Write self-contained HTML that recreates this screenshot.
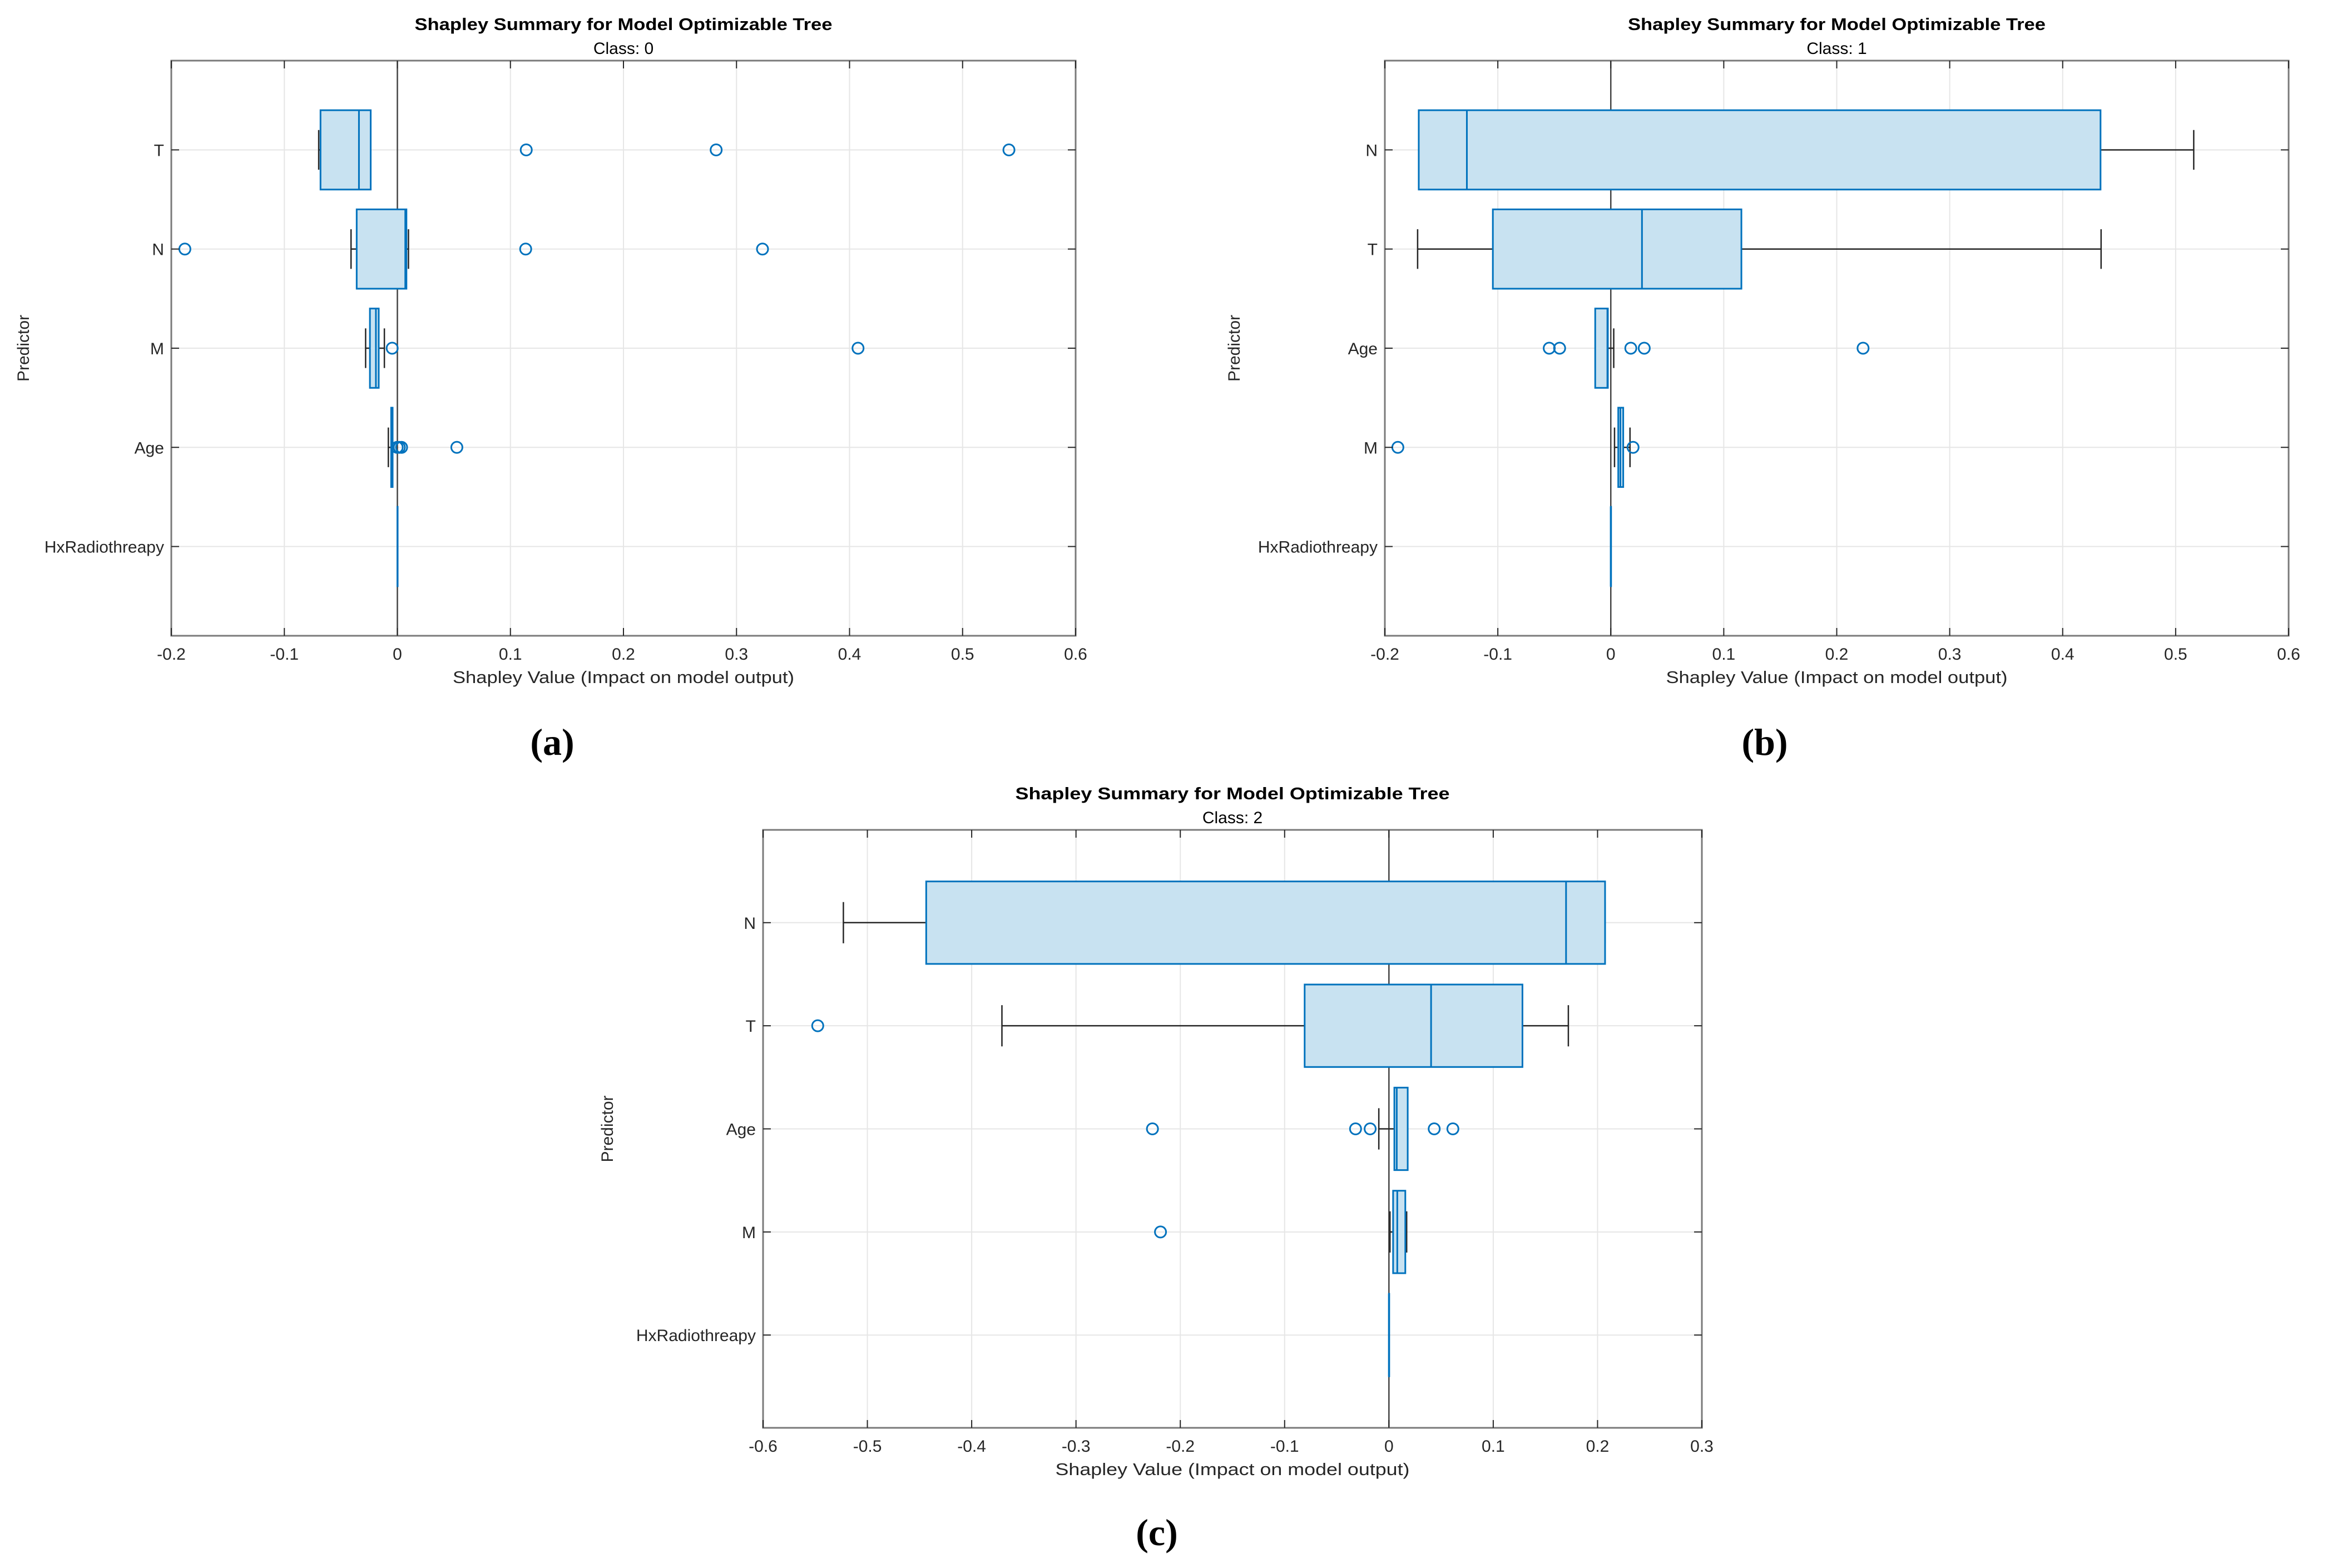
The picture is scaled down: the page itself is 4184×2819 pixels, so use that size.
<!DOCTYPE html>
<html><head><meta charset="utf-8">
<style>
html,body{margin:0;padding:0;background:#fff;}
svg{display:block;font-family:"Liberation Sans",Arial,sans-serif;}
</style></head>
<body>
<svg id="fig" width="4184" height="2819" viewBox="0 0 4184 2819" xmlns="http://www.w3.org/2000/svg"></svg>
<script>
// ---------- data ----------
const xTicksAB = [-0.2,-0.1,0,0.1,0.2,0.3,0.4,0.5,0.6];
const xTicksC = [-0.6,-0.5,-0.4,-0.3,-0.2,-0.1,0,0.1,0.2,0.3];
const xTickLabelsAB = ["-0.2","-0.1","0","0.1","0.2","0.3","0.4","0.5","0.6"];
const xTickLabelsC = ["-0.6","-0.5","-0.4","-0.3","-0.2","-0.1","0","0.1","0.2","0.3"];

// panel a (class 0)
const catsA = ["T","N","M","Age","HxRadiothreapy"];
const whiskLoA = [-0.0696,-0.041,-0.0281,-0.008,0];
const q1A = [-0.068,-0.036,-0.0243,-0.0055,0];
const medA = [-0.034,0.007,-0.019,-0.0048,0];
const q3A = [-0.0236,0.008,-0.0165,-0.0042,0];
const whiskHiA = [-0.0236,0.0098,-0.0115,-0.0042,0];
const outliersA = [[0.114,0.282,0.541],[-0.188,0.1135,0.323],[-0.0046,0.4075],[-0.0002,0.0017,0.0037,0.0526],[]];

// panel b (class 1)
const catsB = ["N","T","Age","M","HxRadiothreapy"];
const whiskLoB = [-0.170,-0.171,-0.0138,0.0033,0];
const q1B = [-0.170,-0.1044,-0.0138,0.0066,0];
const medB = [-0.1274,0.0276,-0.003,0.0085,0];
const q3B = [0.4335,0.1156,-0.0026,0.011,0];
const whiskHiB = [0.516,0.434,0.0026,0.017,0];
const outliersB = [[],[],[-0.0545,-0.0453,0.0177,0.0296,0.2233],[-0.1885,0.0197],[]];

// panel c (class 2)
const catsC = ["N","T","Age","M","HxRadiothreapy"];
const whiskLoC = [-0.523,-0.371,-0.0097,0.001,0];
const q1C = [-0.4436,-0.0808,0.0052,0.004,0];
const medC = [0.1698,0.0404,0.0075,0.008,0];
const q3C = [0.2072,0.128,0.018,0.0157,0];
const whiskHiC = [0.2072,0.172,0.018,0.017,0];
const outliersC = [[],[-0.5476],[-0.2267,-0.032,-0.018,0.0434,0.0613],[-0.219],[]];

// ---------- drawing ----------
const NS = "http://www.w3.org/2000/svg";
const svg = document.getElementById("fig");
function el(tag, attrs, parent){
  const e = document.createElementNS(NS, tag);
  for (const k in attrs) e.setAttribute(k, attrs[k]);
  (parent||svg).appendChild(e);
  return e;
}

function panel(cfg){
  const g = el("g", {});
  
  
  const L=cfg.left, R=cfg.right, T=cfg.top, B=cfg.bottom;
  const xmin=cfg.xTicks[0], xmax=cfg.xTicks[cfg.xTicks.length-1];
  const xs = v => L + (v - xmin)/(xmax - xmin)*(R - L);
  const n = cfg.cats.length;
  const pad = 0.9;
  const ys = i => T + (pad + i)/(n - 1 + 2*pad)*(B - T);
  const rowH = (B-T)/(n-1+2*pad);
  const half = 0.4*rowH, cap = 0.2*rowH;

  // background
  el("rect",{x:L,y:T,width:R-L,height:B-T,fill:"#fff"},g);
  // grid
  cfg.xTicks.forEach((t,i)=>{
    const l = el("line",{x1:xs(t),x2:xs(t),y1:T,y2:B,stroke:"#e6e6e6","stroke-width":2},g);
    
    
  });
  cfg.cats.forEach((c,i)=>{
    const l = el("line",{x1:L,x2:R,y1:ys(i),y2:ys(i),stroke:"#e6e6e6","stroke-width":2},g);
    
    
  });
  // zero line
  const z = el("line",{x1:xs(0),x2:xs(0),y1:T,y2:B,stroke:"#444","stroke-width":2.5},g);
  
  

  // boxes
  cfg.cats.forEach((c,i)=>{
    const y = ys(i);
    const bg = el("g",{},g);
    
    
    const lo=cfg.wlo[i], q1=cfg.q1[i], md=cfg.med[i], q3=cfg.q3[i], hi=cfg.whi[i];
    // whiskers
    el("line",{x1:xs(lo),x2:xs(q1),y1:y,y2:y,stroke:"#262626","stroke-width":2.5},bg);
    el("line",{x1:xs(q3),x2:xs(hi),y1:y,y2:y,stroke:"#262626","stroke-width":2.5},bg);
    el("line",{x1:xs(lo),x2:xs(lo),y1:y-cap,y2:y+cap,stroke:"#262626","stroke-width":2.5},bg);
    el("line",{x1:xs(hi),x2:xs(hi),y1:y-cap,y2:y+cap,stroke:"#262626","stroke-width":2.5},bg);
    // box
    const w = Math.max(xs(q3)-xs(q1), 0.5);
    el("rect",{x:xs(q1),y:y-half,width:w,height:2*half,fill:"#c8e2f1",stroke:"#0072BD","stroke-width":3},bg);
    el("line",{x1:xs(md),x2:xs(md),y1:y-half,y2:y+half,stroke:"#0072BD","stroke-width":3},bg);
    cfg.out[i].forEach(v=>{
      const o = el("circle",{cx:xs(v),cy:y,r:10,fill:"none",stroke:"#0072BD","stroke-width":3},bg);
      
      
    });
  });

  // frame & ticks
  const fr = el("rect",{x:L,y:T,width:R-L,height:B-T,fill:"none",stroke:"#7a7a7a","stroke-width":3},g);
  
  
  cfg.xTicks.forEach((t,i)=>{
    el("line",{x1:xs(t),x2:xs(t),y1:B,y2:B-14,stroke:"#262626","stroke-width":2},g);
    el("line",{x1:xs(t),x2:xs(t),y1:T,y2:T+14,stroke:"#262626","stroke-width":2},g);
    const tx = el("text",{x:xs(t),y:B+43,"font-size":30,"text-anchor":"middle",fill:"#262626"},g);
    tx.textContent = cfg.xLabels[i];
    
    
  });
  cfg.cats.forEach((c,i)=>{
    el("line",{x1:L,x2:L+14,y1:ys(i),y2:ys(i),stroke:"#262626","stroke-width":2},g);
    el("line",{x1:R,x2:R-14,y1:ys(i),y2:ys(i),stroke:"#262626","stroke-width":2},g);
    const tx = el("text",{x:L-13,y:ys(i)+11,"font-size":30,"text-anchor":"end",fill:"#262626"},g);
    tx.textContent = c;
    
    
  });

  const cx = (L+R)/2;
  const t1 = el("text",{x:cx,y:T-55,"font-size":31,"font-weight":"bold","text-anchor":"middle",fill:"#000",textLength:cfg.titleW,lengthAdjust:"spacingAndGlyphs"},g);
  t1.textContent = "Shapley Summary for Model Optimizable Tree";
  
  
  const t2 = el("text",{x:cx,y:T-12,"font-size":30,"text-anchor":"middle",fill:"#000"},g);
  t2.textContent = cfg.cls;
  
  
  const xl = el("text",{x:cx,y:B+85,"font-size":31,"text-anchor":"middle",fill:"#262626",textLength:cfg.xlW,lengthAdjust:"spacingAndGlyphs"},g);
  xl.textContent = "Shapley Value (Impact on model output)";
  
  
  const yl = el("text",{x:0,y:0,"font-size":30,"text-anchor":"middle",fill:"#262626",transform:`translate(${cfg.ylX},${(T+B)/2}) rotate(-90)`},g);
  yl.textContent = "Predictor";
  
  
  const pl = el("text",{x:cfg.labX,y:cfg.labY,"font-size":68,"font-weight":"bold","text-anchor":"middle",fill:"#000","font-family":"Liberation Serif, serif"},g);
  pl.textContent = cfg.lab;
  
  
}

panel({name:"panel-a-class-0",left:308,right:1934,top:109,bottom:1143,xTicks:xTicksAB,xLabels:xTickLabelsAB,
  cats:catsA,wlo:whiskLoA,q1:q1A,med:medA,q3:q3A,whi:whiskHiA,out:outliersA,
  titleW:751,xlW:614,cls:"Class: 0",ylX:52,labX:993,labY:1357,lab:"(a)"});
panel({name:"panel-b-class-1",left:2490,right:4115,top:109,bottom:1143,xTicks:xTicksAB,xLabels:xTickLabelsAB,
  cats:catsB,wlo:whiskLoB,q1:q1B,med:medB,q3:q3B,whi:whiskHiB,out:outliersB,
  titleW:751,xlW:614,cls:"Class: 1",ylX:2229,labX:3173,labY:1357,lab:"(b)"});
panel({name:"panel-c-class-2",left:1372,right:3060,top:1492,bottom:2567,xTicks:xTicksC,xLabels:xTickLabelsC,
  cats:catsC,wlo:whiskLoC,q1:q1C,med:medC,q3:q3C,whi:whiskHiC,out:outliersC,
  titleW:781,xlW:637,cls:"Class: 2",ylX:1102,labX:2080,labY:2778,lab:"(c)"});
</script>
</body></html>
